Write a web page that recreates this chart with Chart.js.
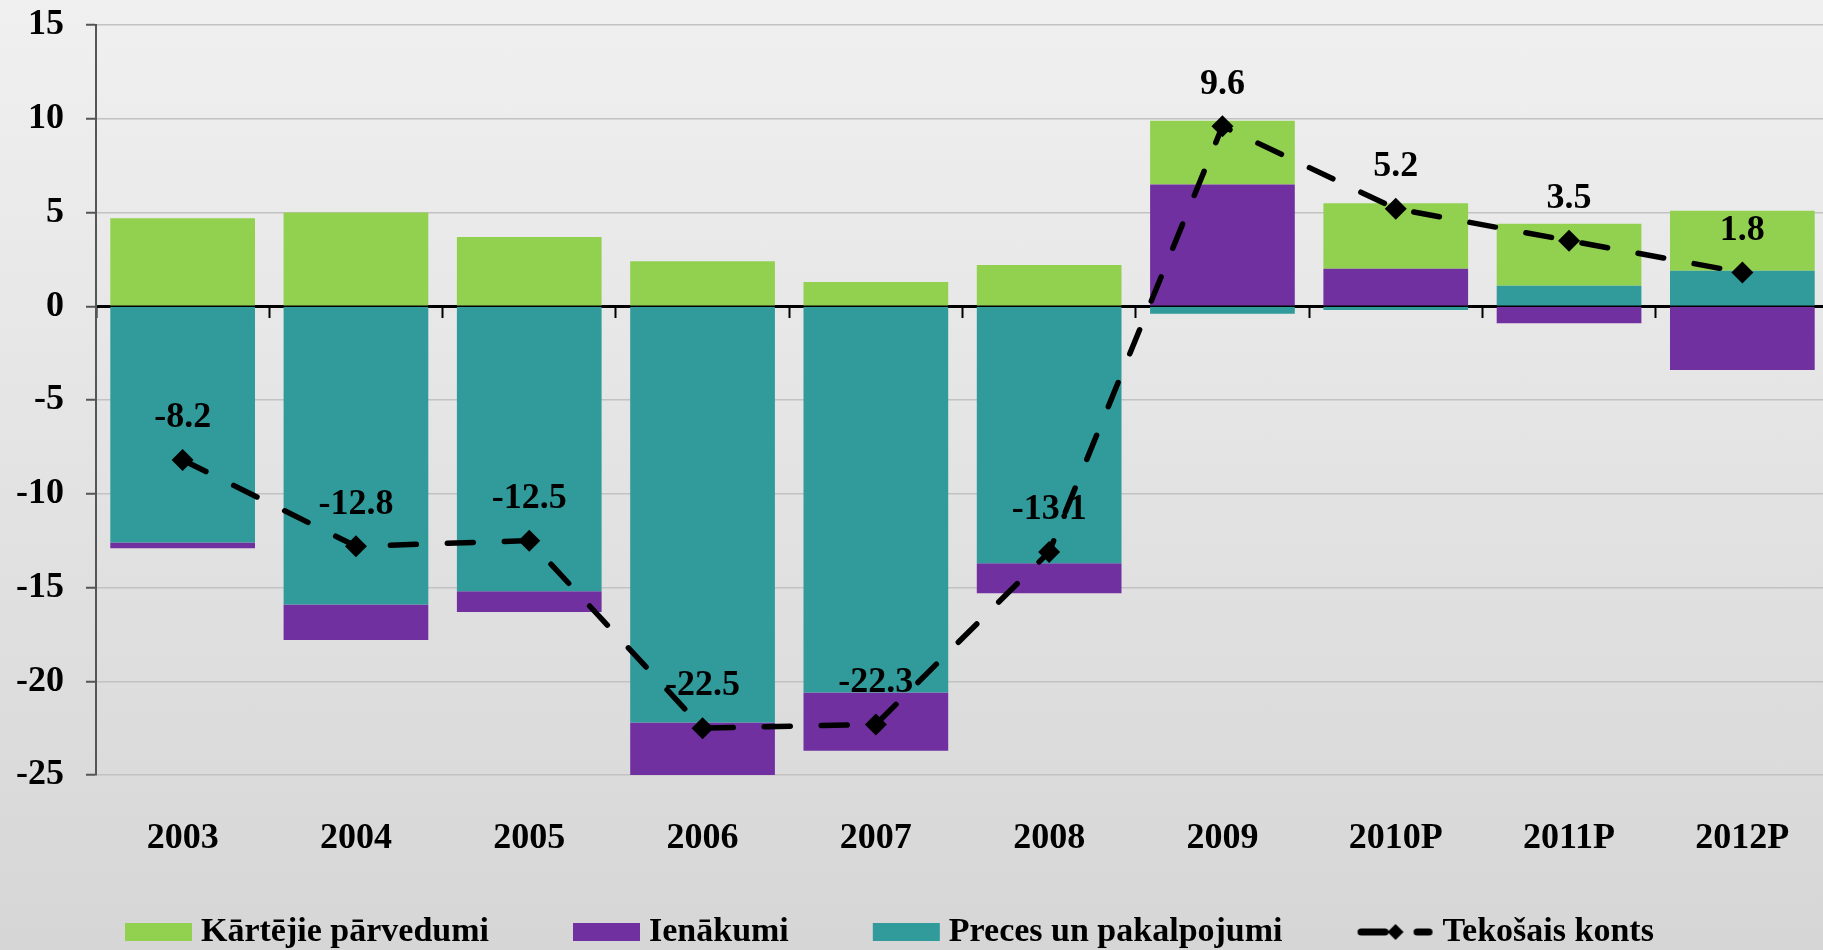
<!DOCTYPE html>
<html>
<head>
<meta charset="utf-8">
<script src="https://cdn.jsdelivr.net/npm/chart.js@4/dist/chart.umd.min.js"></script>
<style>
  html, body { margin: 0; padding: 0; overflow: hidden; }
  body { width: 1823px; height: 950px; background: linear-gradient(#f0f0f0, #d6d6d6); }
  #wrap { width: 1840px; height: 950px; }
</style>
</head>
<body>
<div id="wrap"><canvas id="bopChart" width="1840" height="950"></canvas></div>
<script>
// categories and series (percent of GDP)
const years = ['2003', '2004', '2005', '2006', '2007', '2008', '2009', '2010P', '2011P', '2012P'];
const transfers = [4.7, 5.0, 3.7, 2.4, 1.3, 2.2, 3.4, 3.5, 3.3, 3.2];          // Kārtējie pārvedumi
const income = [-0.3, -1.9, -1.1, -2.8, -3.1, -1.6, 6.5, 2.0, -0.9, -3.4];       // Ienākumi
const goods = [-12.6, -15.9, -15.2, -22.2, -20.6, -13.7, -0.4, -0.2, 1.1, 1.9];  // Preces un pakalpojumi
const current = [-8.2, -12.8, -12.5, -22.5, -22.3, -13.1, 9.6, 5.2, 3.5, 1.8];   // Tekošais konts
const yTicks = { min: -25, max: 15, step: 5 };

const serif = 'Liberation Serif';
Chart.defaults.font.family = serif;
Chart.defaults.color = '#000';

// legend symbols, drawn into small canvases (98 x 20, same slot for every item)
function legendIcon(draw) {
    const c = document.createElement('canvas');
    c.width = 98;
    c.height = 20;
    draw(c.getContext('2d'));
    return c;
}
function boxIcon(color) {
    return legendIcon(g => {
        g.fillStyle = color;
        g.fillRect(30, 1, 67, 18);
    });
}
const lineIcon = legendIcon(g => {
    g.strokeStyle = '#000';
    g.fillStyle = '#000';
    g.lineWidth = 7;
    g.lineCap = 'round';
    g.beginPath();
    g.moveTo(24.5, 10); g.lineTo(48.5, 10);
    g.moveTo(80.5, 10); g.lineTo(92.5, 10);
    g.stroke();
    g.beginPath();
    g.moveTo(59, 2); g.lineTo(67, 10); g.lineTo(59, 18); g.lineTo(51, 10);
    g.closePath();
    g.fill();
});

// value labels above the current account points
const valueLabels = {
    id: 'valueLabels',
    afterDatasetsDraw(chart) {
        const ctx = chart.ctx;
        const meta = chart.getDatasetMeta(0);
        ctx.save();
        ctx.font = 'bold 36px "' + serif + '"';
        ctx.fillStyle = '#000';
        ctx.textAlign = 'center';
        ctx.textBaseline = 'middle';
        meta.data.forEach((pt, i) => {
            ctx.fillText(current[i].toFixed(1), pt.x, pt.y - 42);
        });
        ctx.restore();
    }
};

// legend: short box (label padding is used for item spacing) and nudged right
const legendPlace = {
    id: 'legendPlace',
    beforeInit(chart) {
        const fit = chart.legend.fit;
        chart.legend.fit = function () {
            fit.call(this);
            this.height = 98;
        };
    },
    afterLayout(chart) {
        chart.legend.left += 27;
        chart.legend.right += 27;
    }
};

const ctx = document.getElementById('bopChart').getContext('2d');
new Chart(ctx, {
    type: 'bar',
    data: {
        labels: years,
        datasets: [
            {
                type: 'line',
                label: 'Tekošais konts',
                data: current,
                stack: 'line',
                borderColor: '#000',
                borderWidth: 5.5,
                borderDash: [26, 31],
                borderCapStyle: 'round',
                fill: false,
                tension: 0,
                pointStyle: 'rectRot',
                pointRadius: 11,
                pointBackgroundColor: '#000',
                pointBorderWidth: 0
            },
            { label: 'Preces un pakalpojumi', data: goods, backgroundColor: '#319a9b' },
            { label: 'Ienākumi', data: income, backgroundColor: '#7030a0' },
            { label: 'Kārtējie pārvedumi', data: transfers, backgroundColor: '#92d050' }
        ]
    },
    options: {
        responsive: false,
        animation: false,
        events: [],
        categoryPercentage: 1,
        barPercentage: 0.835,
        layout: { padding: { left: 14, right: 4, top: 25, bottom: 0 } },
        scales: {
            x: {
                stacked: true,
                grid: { display: false },
                border: { display: false },
                ticks: { font: { size: 36, weight: 'bold' }, color: '#000', padding: 34, maxRotation: 0 },
                afterFit: (scale) => { scale.height = 77; }
            },
            // axis line with category tick marks along zero
            x0: {
                type: 'category',
                position: { y: 0 },
                offset: true,
                grid: { display: true, offset: true, drawOnChartArea: false, tickLength: 10, tickColor: '#000', tickWidth: 2 },
                border: { display: true, color: '#000', width: 3 },
                ticks: { display: false }
            },
            y: {
                stacked: true,
                min: yTicks.min,
                max: yTicks.max,
                ticks: {
                    stepSize: yTicks.step,
                    font: { size: 36, weight: 'bold', lineHeight: 0.1 },
                    color: '#000',
                    padding: 22
                },
                grid: { color: '#c2c2c2', lineWidth: 1.5, tickLength: 10, tickColor: '#555', tickWidth: 2 },
                border: { color: '#555', width: 2 },
                afterFit: (scale) => { scale.width = 82; }
            }
        },
        plugins: {
            legend: {
                position: 'bottom',
                align: 'start',
                labels: {
                    usePointStyle: true,
                    pointStyleWidth: 80,
                    boxHeight: 18,
                    padding: 63,
                    color: '#000',
                    font: { size: 34, weight: 'bold' },
                    sort: (a, b) => b.datasetIndex - a.datasetIndex,
                    generateLabels(chart) {
                        const items = Chart.defaults.plugins.legend.labels.generateLabels(chart);
                        items.forEach(item => {
                            item.pointStyle = item.datasetIndex === 0 ? lineIcon : boxIcon(item.fillStyle);
                            item.lineWidth = 0;
                        });
                        return items;
                    }
                }
            },
            tooltip: { enabled: false }
        }
    },
    plugins: [legendPlace, valueLabels]
});
</script>
</body>
</html>
